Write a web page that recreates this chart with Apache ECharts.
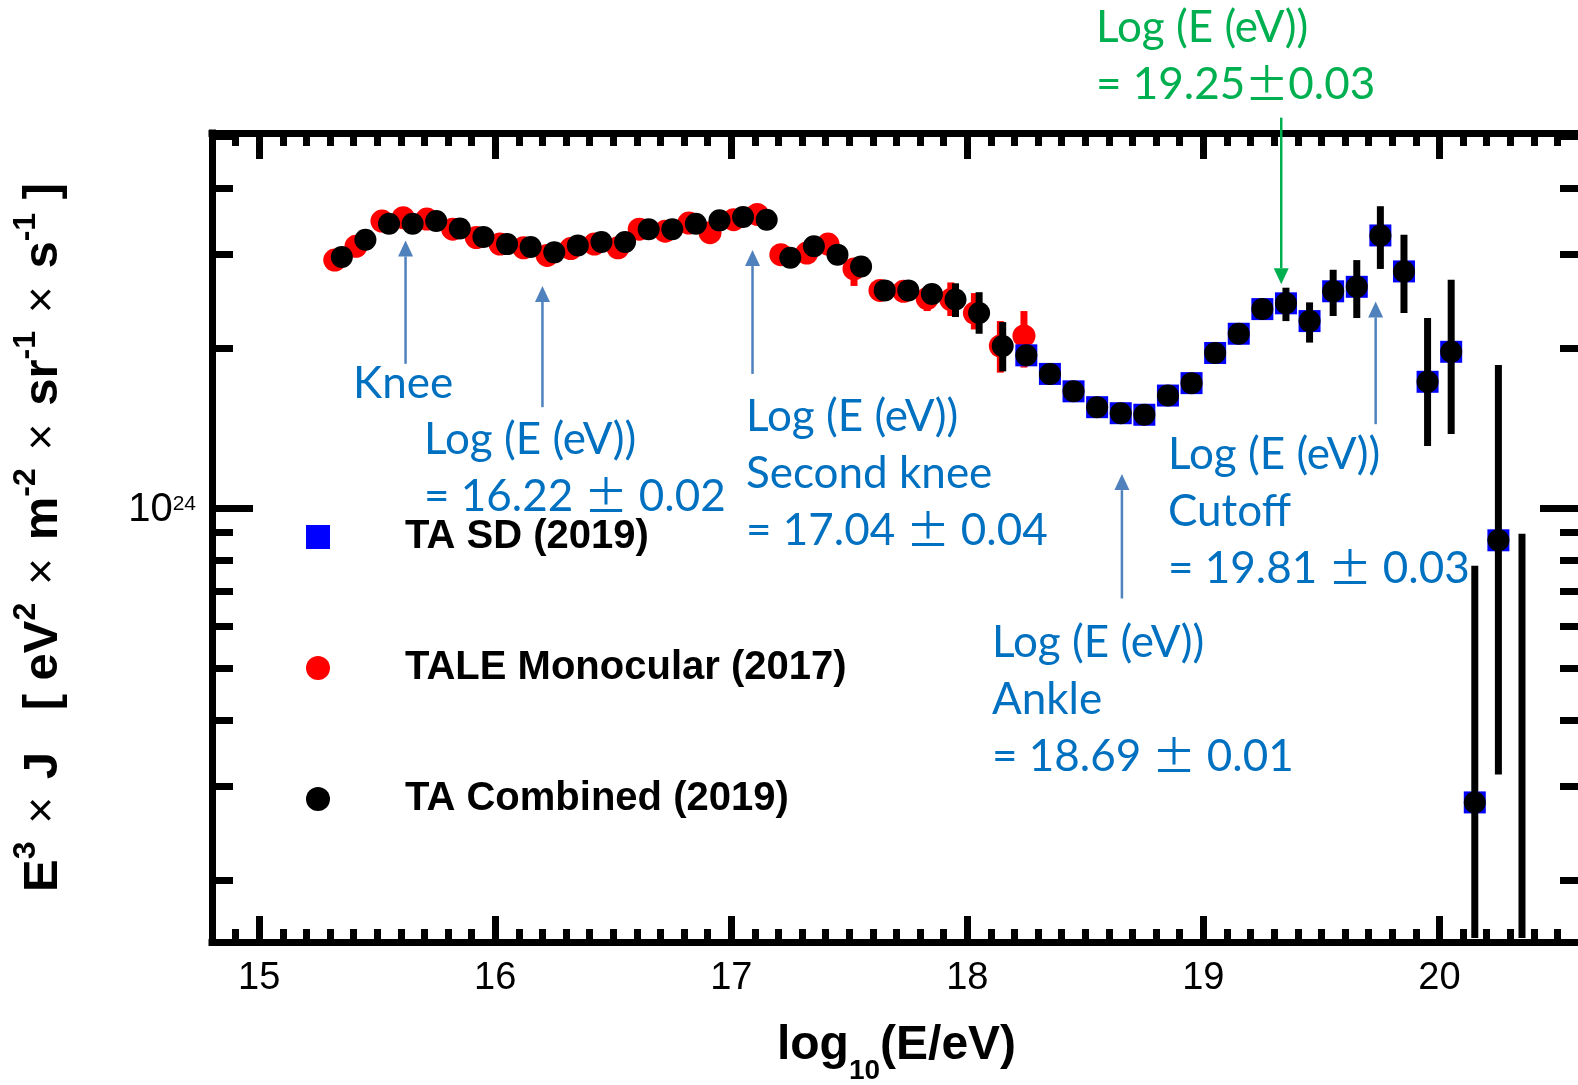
<!DOCTYPE html>
<html>
<head>
<meta charset="utf-8">
<script src="https://cdn.jsdelivr.net/npm/echarts@6/dist/echarts.min.js"></script>
<style>
html,body{margin:0;padding:0;background:#fff;}
#chart{width:1578px;height:1085px;}
</style>
</head>
<body>
<div id="chart"></div>
<script>
// ---------------- DATA (log10 E in eV ; E^3 J in eV^2 m^-2 sr^-1 s^-1) ----------------
const combinedX = [15.35,15.45,15.55,15.65,15.75,15.85,15.95,16.05,16.15,16.25,
                   16.35,16.45,16.55,16.65,16.75,16.85,16.95,17.05,17.15,17.25,
                   17.35,17.45,17.55,17.65,17.75,17.85,17.95,18.05,18.15,18.25,
                   18.35,18.45,18.55,18.65,18.75,18.85,18.95,19.05,19.15,19.25,
                   19.35,19.45,19.55,19.65,19.75,19.85,19.95,20.05,20.15,20.25];
const combinedY = [2.97e24,3.20e24,3.43e24,3.43e24,3.47e24,3.36e24,3.24e24,3.14e24,3.10e24,3.03e24,
                   3.12e24,3.17e24,3.17e24,3.35e24,3.35e24,3.43e24,3.48e24,3.53e24,3.49e24,2.96e24,
                   3.11e24,3.00e24,2.85e24,2.57e24,2.57e24,2.53e24,2.47e24,2.33e24,2.02e24,1.94e24,
                   1.79e24,1.66e24,1.55e24,1.51e24,1.50e24,1.63e24,1.72e24,1.96e24,2.13e24,2.37e24,
                   2.43e24,2.25e24,2.56e24,2.61e24,3.26e24,2.79e24,1.73e24,1.97e24,2.80e23,8.71e23];
const combinedErrX    = [17.95,18.05,18.15,19.35,19.45,19.55,19.65,19.75,19.85,19.95,20.05,20.15,20.25,20.35];
const combinedErrLow  = [2.29e24,2.13e24,1.81e24,2.25e24,2.05e24,2.30e24,2.28e24,2.82e24,2.33e24,1.31e24,1.38e24,1.0e23,3.16e23,1.0e23];
const combinedErrHigh = [2.65e24,2.55e24,2.24e24,2.60e24,2.44e24,2.81e24,2.93e24,3.70e24,3.27e24,2.28e24,2.69e24,7.80e23,1.86e24,8.96e23];

const taleX = [15.32,15.41,15.52,15.61,15.71,15.82,15.92,16.02,16.12,16.22,
               16.32,16.42,16.52,16.61,16.72,16.82,16.91,17.01,17.11,17.21,
               17.32,17.41,17.52,17.63,17.73,17.83,17.93,18.03,18.14,18.24];
const taleY = [2.93e24,3.11e24,3.47e24,3.52e24,3.50e24,3.35e24,3.23e24,3.14e24,3.09e24,2.99e24,
               3.08e24,3.14e24,3.09e24,3.35e24,3.32e24,3.44e24,3.30e24,3.49e24,3.57e24,3.00e24,
               3.02e24,3.14e24,2.82e24,2.57e24,2.56e24,2.48e24,2.47e24,2.33e24,2.02e24,2.11e24];
const taleErrX    = [17.52,17.83,17.93,18.03,18.14,18.24];
const taleErrLow  = [2.62e24,2.35e24,2.30e24,2.17e24,1.80e24,1.84e24];
const taleErrHigh = [2.95e24,2.60e24,2.66e24,2.54e24,2.25e24,2.35e24];

const sdX = [18.25,18.35,18.45,18.55,18.65,18.75,18.85,18.95,19.05,19.15,19.25,
             19.35,19.45,19.55,19.65,19.75,19.85,19.95,20.05,20.15,20.25];
const sdY = [1.94e24,1.79e24,1.66e24,1.55e24,1.51e24,1.50e24,1.63e24,1.72e24,1.96e24,2.13e24,2.37e24,
             2.43e24,2.25e24,2.56e24,2.61e24,3.26e24,2.79e24,1.73e24,1.97e24,2.80e23,8.71e23];

// axis ticks
const xMajorTicks = [15,16,17,18,19,20];
const yMajorTicks = [1e24];
const yMinorTicks = [2e23,3e23,4e23,5e23,6e23,7e23,8e23,9e23,2e24,3e24,4e24,5e24];
const xMinorTicks = [];
for (let i = 149; i <= 205; i++) xMinorTicks.push(i / 10);

// annotation arrows (x = log10 E, tip / tail in flux units)
const featureArrowX    = [15.62,16.20,17.09,18.655,19.73];
const featureArrowTip  = [3.19e24,2.62e24,3.06e24,1.16e24,2.45e24];
const featureArrowTail = [1.87e24,1.55e24,1.79e24,6.77e23,1.44e24];
const greenArrowX    = [19.33];
const greenArrowTip  = [2.64e24];
const greenArrowTail = [5.43e24];

// annotation texts
const annKnee   = ['Knee'];
const ann1622   = ['Log (E (eV))', '= 16.22 ', '±', ' 0.02'];
const ann1704   = ['Log (E (eV))', 'Second knee', '= 17.04 ', '±', ' 0.04'];
const ann1981   = ['Log (E (eV))', 'Cutoff', '= 19.81 ', '±', ' 0.03'];
const ann1869   = ['Log (E (eV))', 'Ankle', '= 18.69 ', '±', ' 0.01'];
const ann1925   = ['Log (E (eV))', '= 19.25', '±', '0.03'];

const legendNames = ['TA SD (2019)', 'TALE Monocular (2017)', 'TA Combined (2019)'];

// ---------------- CHART ----------------
const chart = echarts.init(document.getElementById('chart'), null, {renderer: 'canvas'});

const X_MIN = 14.8, X_MAX = 20.6, Y_MIN = 1.53e23, Y_MAX = 5.08e24;
const AX = '#000';
const tickFont = 'Liberation Sans';

function xAxisDef(position, ticks, len, withLine, withLabel) {
  return {
    type: 'value', position: position, min: X_MIN, max: X_MAX,
    axisLine: {show: withLine, onZero: false, lineStyle: {color: AX, width: 7, cap: 'square'}},
    axisTick: {show: true, inside: true, length: len, customValues: ticks, lineStyle: {color: AX, width: 7}},
    axisLabel: withLabel ? {show: true, customValues: xMajorTicks, color: '#000', fontFamily: tickFont,
                            fontSize: 38, margin: 18, formatter: v => String(Math.round(v))} : {show: false},
    splitLine: {show: false}, minorTick: {show: false}, minorSplitLine: {show: false}
  };
}
function yAxisDef(position, ticks, len, withLine, withLabel) {
  return {
    type: 'log', logBase: 10, position: position, min: Y_MIN, max: Y_MAX,
    axisLine: {show: withLine, onZero: false, lineStyle: {color: AX, width: 7, cap: 'square'}},
    axisTick: {show: true, inside: true, length: len, customValues: ticks, lineStyle: {color: AX, width: 7}},
    axisLabel: withLabel ? {
      show: true, customValues: yMajorTicks, margin: 16,
      formatter: () => '{a|10}{s|24}',
      rich: {
        a: {fontFamily: tickFont, fontSize: 40, lineHeight: 40, color: '#000', padding: [4, 0, 0, 0]},
        s: {fontFamily: tickFont, fontSize: 21, lineHeight: 21, color: '#000', verticalAlign: 'top', padding: [5, 0, 0, 0]}
      }
    } : {show: false},
    splitLine: {show: false}, minorTick: {show: false}, minorSplitLine: {show: false}
  };
}

const xAxes = [
  xAxisDef('bottom', xMajorTicks, 26, true, true),
  xAxisDef('bottom', xMinorTicks, 13, false, false),
  xAxisDef('top', xMajorTicks, 26, true, false),
  xAxisDef('top', xMinorTicks, 13, false, false)
];
Object.assign(xAxes[0], {
  name: '{a|log}{s|10}{a|(E/eV)}', nameLocation: 'middle', nameGap: 80,
  nameTextStyle: {
    rich: {
      a: {fontFamily: tickFont, fontWeight: 'bold', fontSize: 48, lineHeight: 48, color: '#000', verticalAlign: 'top'},
      s: {fontFamily: tickFont, fontWeight: 'bold', fontSize: 28, lineHeight: 28, color: '#000', verticalAlign: 'top', padding: [35, 0, 0, 0]}
    }
  }
});
const yAxes = [
  yAxisDef('left', yMajorTicks, 41, true, true),
  yAxisDef('left', yMinorTicks, 21, false, false),
  yAxisDef('right', yMajorTicks, 41, true, false),
  yAxisDef('right', yMinorTicks, 21, false, false)
];
Object.assign(yAxes[0], {
  name: '{b|E}{p|3}{x| × }{b|J}{g|  }{b|[ eV}{p|2}{x| × }{b|m}{p|-2}{x| × }{b|sr}{p|-1}{x| × }{b|s}{p|-1}{b| ]}',
  nameLocation: 'middle', nameRotate: 90, nameGap: 136,
  nameTextStyle: {
    rich: {
      b: {fontFamily: tickFont, fontWeight: 'bold', fontSize: 49, lineHeight: 66, color: '#000', verticalAlign: 'middle'},
      p: {fontFamily: tickFont, fontWeight: 'bold', fontSize: 32, lineHeight: 32, color: '#000', verticalAlign: 'top'},
      x: {fontFamily: tickFont, fontWeight: 'normal', fontSize: 46, lineHeight: 66, color: '#000', verticalAlign: 'middle', padding: [0, 5, 0, 5]},
      g: {fontFamily: tickFont, fontWeight: 'normal', fontSize: 46, lineHeight: 66, color: '#000', verticalAlign: 'middle', padding: [0, 8, 0, 8]}
    }
  }
});

function errorBars(name, xs, lo, hi, color, width, z) {
  return {
    type: 'custom', name: name, z: z, silent: true, clip: true,
    data: xs.map((x, i) => [x, lo[i], hi[i]]),
    encode: {x: 0, y: [1, 2]},
    renderItem: function (params, api) {
      const x = api.value(0);
      const p1 = api.coord([x, api.value(1)]);
      const p2 = api.coord([x, api.value(2)]);
      const cs = params.coordSys;
      const clampY = y => Math.max(cs.y, Math.min(cs.y + cs.height - 4, y));
      return {
        type: 'line',
        shape: {x1: p1[0], y1: clampY(p1[1]), x2: p2[0], y2: clampY(p2[1])},
        style: {stroke: color, lineWidth: width, lineCap: 'butt'}
      };
    }
  };
}

function arrows(name, xs, tips, tails, color, z) {
  return {
    type: 'custom', name: name, z: z, silent: true, clip: false,
    data: xs.map((x, i) => [x, tips[i], tails[i]]),
    encode: {x: 0, y: [1, 2]},
    renderItem: function (params, api) {
      const x = api.value(0);
      const tip = api.coord([x, api.value(1)]);
      const tail = api.coord([x, api.value(2)]);
      const dir = tail[1] > tip[1] ? 1 : -1;
      const headLen = 16, half = 7.5;
      const base = tip[1] + dir * headLen;
      return {
        type: 'group',
        children: [
          {type: 'line', shape: {x1: tail[0], y1: tail[1], x2: tip[0], y2: base},
           style: {stroke: color, lineWidth: 2.5}},
          {type: 'polygon', shape: {points: [[tip[0], tip[1]], [tip[0] - half, base], [tip[0] + half, base]]},
           style: {fill: color}}
        ]
      };
    }
  };
}

const pair = (xs, ys) => xs.map((x, i) => [x, ys[i]]);

const BLUE_TXT = '#0070C0', GREEN_TXT = '#00B050';
const annFont = 'Lato';
function annRich(color) {
  return {
    t: {fontFamily: annFont, fontSize: 44, lineHeight: 57, color: color},
    pm: {fontFamily: 'Noto Sans CJK JP', fontSize: 44, lineHeight: 57, color: color, width: 43, align: 'center'}
  };
}
function annText(left, top, str, color) {
  return {
    type: 'text', left: left, top: top, z: 100, silent: true,
    style: {text: str, rich: annRich(color), fill: color, font: '44px ' + annFont}
  };
}
const L = 57, DY = 9;
const graphics = [
  annText(353, 381 + DY - L / 2, '{t|' + annKnee[0] + '}', BLUE_TXT),
  annText(424, 437 + DY - L / 2, '{t|' + ann1622[0] + '}\n{t|' + ann1622[1] + '}{pm|' + ann1622[2] + '}{t|' + ann1622[3] + '}', BLUE_TXT),
  annText(746, 414 + DY - L / 2, '{t|' + ann1704[0] + '}\n{t|' + ann1704[1] + '}\n{t|' + ann1704[2] + '}{pm|' + ann1704[3] + '}{t|' + ann1704[4] + '}', BLUE_TXT),
  annText(1168, 452 + DY - L / 2, '{t|' + ann1981[0] + '}\n{t|' + ann1981[1] + '}\n{t|' + ann1981[2] + '}{pm|' + ann1981[3] + '}{t|' + ann1981[4] + '}', BLUE_TXT),
  annText(992, 640 + DY - L / 2, '{t|' + ann1869[0] + '}\n{t|' + ann1869[1] + '}\n{t|' + ann1869[2] + '}{pm|' + ann1869[3] + '}{t|' + ann1869[4] + '}', BLUE_TXT),
  annText(1096, 25 + DY - L / 2, '{t|' + ann1925[0] + '}\n{t|' + ann1925[1] + '}{pm|' + ann1925[2] + '}{t|' + ann1925[3] + '}', GREEN_TXT)
];

const option = {
  animation: false,
  backgroundColor: '#fff',
  grid: {left: 212, top: 133, width: 1369, height: 809, outerBoundsMode: 'none', containLabel: false},
  xAxis: xAxes,
  yAxis: yAxes,
  legend: {
    data: [
      {name: legendNames[0], icon: 'rect'},
      {name: legendNames[1], icon: 'circle'},
      {name: legendNames[2], icon: 'circle'}
    ],
    orient: 'vertical', left: 306, top: 517, padding: 0,
    itemWidth: 24, itemHeight: 24, itemGap: 91, selectedMode: false,
    textStyle: {fontFamily: tickFont, fontWeight: 'bold', fontSize: 40, lineHeight: 40, color: '#000', padding: [0, 0, 0, 70]}
  },
  graphic: graphics,
  series: [
    {type: 'scatter', name: legendNames[1], data: pair(taleX, taleY), symbol: 'circle', symbolSize: 23, z: 2,
     itemStyle: {color: '#ff0000', opacity: 1}, silent: true},
    errorBars('TALE err', taleErrX, taleErrLow, taleErrHigh, '#ff0000', 7, 2),
    {type: 'scatter', name: legendNames[0], data: pair(sdX, sdY), symbol: 'rect', symbolSize: 22, z: 3,
     itemStyle: {color: '#0000ff', opacity: 1}, silent: true},
    errorBars('Combined err', combinedErrX, combinedErrLow, combinedErrHigh, '#000', 7, 4),
    {type: 'scatter', name: legendNames[2], data: pair(combinedX, combinedY), symbol: 'circle', symbolSize: 22, z: 5,
     itemStyle: {color: '#000', opacity: 1}, silent: true},
    arrows('feature arrows', featureArrowX, featureArrowTip, featureArrowTail, '#4F81BD', 6),
    arrows('green arrow', greenArrowX, greenArrowTip, greenArrowTail, '#00B050', 6)
  ]
};
chart.setOption(option);
</script>
</body>
</html>
